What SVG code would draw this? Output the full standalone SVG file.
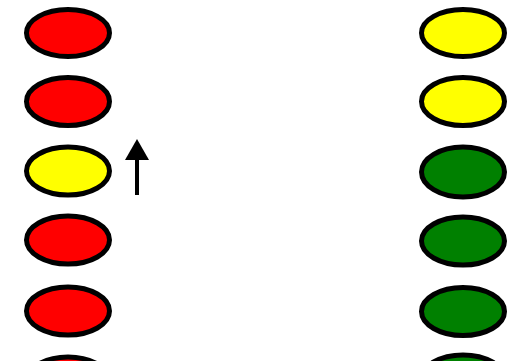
<svg xmlns="http://www.w3.org/2000/svg" width="508" height="361" viewBox="0 0 508 361">
<defs>
<style>
.e{stroke:#000;stroke-width:5}
.r{fill:#FF0000}
.y{fill:#FFFF00}
.g{fill:#008000}
</style>
</defs>
<rect width="508" height="361" fill="#fff"/>
<g id="l1"><ellipse class="e r" cx="68" cy="33" rx="41.5" ry="23.5"/></g>
<g id="l2"><ellipse class="e r" cx="68" cy="101.5" rx="41.5" ry="24"/></g>
<g id="l3"><ellipse class="e y" cx="68" cy="171" rx="41.5" ry="24"/></g>
<g id="l4"><ellipse class="e r" cx="68" cy="240" rx="41.5" ry="24"/></g>
<g id="l5"><ellipse class="e r" cx="68" cy="311" rx="41.5" ry="24"/></g>
<g id="l6"><ellipse class="e r" cx="68" cy="381" rx="41.5" ry="24"/></g>
<g id="r1"><ellipse class="e y" cx="463" cy="33" rx="41.5" ry="23.5"/></g>
<g id="r2"><ellipse class="e y" cx="463" cy="101.5" rx="41.5" ry="24"/></g>
<g id="r3"><ellipse class="e g" cx="463" cy="172" rx="41.5" ry="25"/></g>
<g id="r4"><ellipse class="e g" cx="463" cy="241" rx="41.5" ry="24"/></g>
<g id="r5"><ellipse class="e g" cx="463" cy="311.5" rx="41.5" ry="24"/></g>
<g id="r6"><ellipse class="e g" cx="463" cy="379" rx="41.5" ry="24"/></g>
<g id="connectors">
<line x1="137" y1="195" x2="137" y2="158" stroke="#000" stroke-width="4"/>
<polygon points="137,139 125,160 149,160" fill="#000"/>
</g>
</svg>
